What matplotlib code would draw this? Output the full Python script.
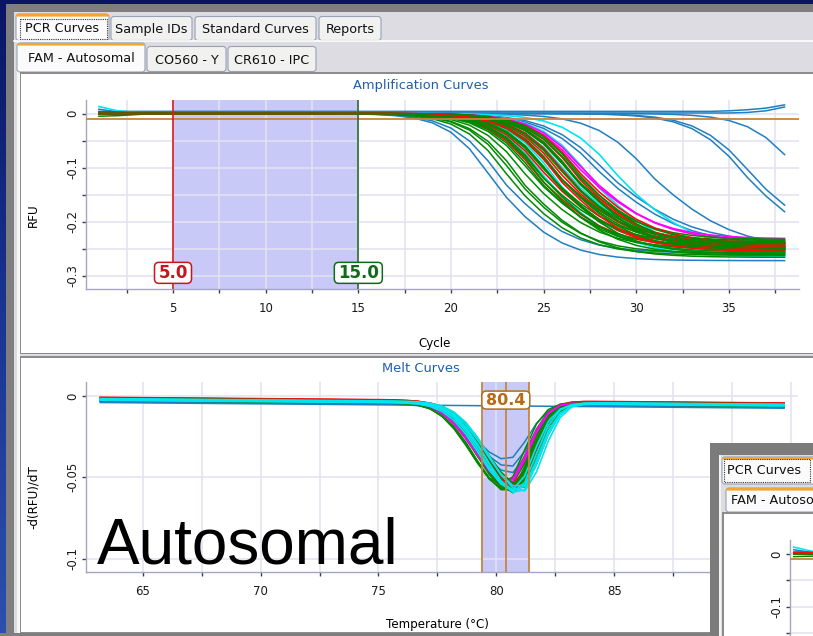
import numpy as np
import matplotlib
matplotlib.use("Agg")
import matplotlib.pyplot as plt
from matplotlib.patches import Rectangle, FancyBboxPatch
from matplotlib.colors import LinearSegmentedColormap
from matplotlib.ticker import MultipleLocator

W, H = 813, 636
plt.rcParams['font.family'] = ['DejaVu Sans']

PALETTE = {'b': '#1f7fc0', 'c': '#00e6f0', 'g': '#008a00', 'r': '#ff0a0a', 'm': '#ff00ff'}
LINE_W = {'b': 1.1, 'r': 1.2, 'c': 1.2, 'm': 1.2, 'g': 1.1}

# ---------------- amplification run (FAM - Autosomal) ----------------
cycles = np.arange(1, 39)
amp_color = (['b'] * 8 + ['c'] * 5 + ['g'] * 22 + ['r'] * 10 + ['m'] * 2)
amp_mid = [22.5, 22.9, 28.4, 28.7, 31.1, 36.3, 36.6, 39.3,
           25.3, 25.9, 26.6, 27.8, 29.3,
           23.4, 23.7, 24.0, 24.3, 24.6, 24.8, 25.0, 25.2, 25.4, 25.5, 25.7,
           25.8, 26.0, 26.1, 26.3, 26.4, 26.6, 26.7, 26.9, 27.0, 27.2, 25.1,
           24.9, 25.3, 25.6, 25.9, 26.2, 26.5, 26.7, 27.0, 27.2, 26.0,
           27.3, 27.5]
amp_width = [1.30, 1.35, 1.65, 1.65, 1.60, 1.55, 1.55, 1.45,
             1.40, 1.40, 1.45, 1.45, 1.50,
             1.35, 1.35, 1.40, 1.40, 1.40, 1.40, 1.40, 1.40, 1.40, 1.40, 1.40,
             1.40, 1.40, 1.40, 1.40, 1.40, 1.40, 1.40, 1.40, 1.40, 1.40, 1.40,
             1.40, 1.40, 1.40, 1.40, 1.40, 1.40, 1.40, 1.40, 1.40, 1.40,
             1.45, 1.45]
amp_plateau = [-0.272, -0.258, -0.244, -0.240, -0.250, -0.262, -0.256, -0.262,
               -0.258, -0.265, -0.250, -0.262, -0.255,
               -0.262, -0.258, -0.266, -0.250, -0.245, -0.252, -0.240, -0.256,
               -0.238, -0.248, -0.260, -0.235, -0.246, -0.253, -0.241, -0.249,
               -0.233, -0.245, -0.255, -0.240, -0.250, -0.262,
               -0.248, -0.243, -0.252, -0.238, -0.246, -0.251, -0.242, -0.247,
               -0.240, -0.255,
               -0.232, -0.236]
amp_tail = 1.35  # slower approach to the plateau than the take-off
# readings of the first three cycles that sit off the baseline
start_rfu = {0: [0.008, 0.003, 0.001], 8: [0.013, 0.005, 0.002],
             13: [-0.005, -0.004, -0.002], 35: [0.003, 0.003, 0.002]}
# no-template controls
ntc_rfu = [[0.004] * 34 + [0.005, 0.007, 0.010, 0.016],
           [0.001] * 35 + [0.002, 0.005, 0.012]]
threshold_rfu = -0.0098
baseline_begin, baseline_end = 5.0, 15.0
amp_xticks = [5, 10, 15, 20, 25, 30, 35]
amp_yticks = [0, -0.1, -0.2, -0.3]
amp_yticklabels = ['0', '-0.1', '-0.2', '-0.3']

# ---------------- melt run ----------------
temps = np.arange(63.2, 92.3, 0.5)
melt_color = (['b'] * 4 + ['g'] * 15 + ['r'] * 7 + ['m'] * 2 + ['c'] * 6)
melt_tm = [80.45, 80.55, 80.6, 80.5,
           80.3, 80.4, 80.45, 80.5, 80.55, 80.6, 80.6, 80.65, 80.7, 80.75,
           80.8, 80.85, 80.9, 80.95, 81.0,
           80.5, 80.6, 80.7, 80.75, 80.85, 80.95, 81.0,
           80.45, 80.5,
           80.7, 80.8, 80.9, 80.95, 81.0, 81.1]
melt_depth = [0.034, 0.038, 0.042, 0.0,
              0.051, 0.053, 0.049, 0.054, 0.050, 0.055, 0.052, 0.053, 0.054,
              0.051, 0.055, 0.052, 0.054, 0.053, 0.051,
              0.052, 0.054, 0.051, 0.055, 0.053, 0.052, 0.054,
              0.049, 0.050,
              0.053, 0.055, 0.054, 0.056, 0.052, 0.055]
melt_offset = [-0.0010, -0.0015, -0.0012, -0.0020,
               0.0002, -0.0004, 0.0006, -0.0008, 0.0000, 0.0004, -0.0006,
               0.0008, -0.0002, 0.0003, -0.0005, 0.0007, -0.0003, 0.0001, 0.0005,
               0.0010, 0.0006, 0.0012, 0.0004, 0.0009, 0.0002, 0.0007,
               0.0000, 0.0003,
               -0.0004, 0.0002, -0.0006, 0.0001, -0.0002, 0.0004]
melt_base_start, melt_base_end = -0.0020, -0.0055
melt_sigma_low, melt_sigma_high = 1.40, 0.85
melt_peak = 80.4
melt_half_window = 1.0
melt_xticks = [65, 70, 75, 80, 85, 90]
melt_yticks = [0, -0.05, -0.1]
melt_yticklabels = ['0', '-0.05', '-0.1']


def amp_trace(i):
    mid, width, plateau = amp_mid[i], amp_width[i], amp_plateau[i]
    s = np.where(cycles < mid, width, width * amp_tail)
    y = plateau / (1.0 + np.exp(-(cycles - mid) / s))
    if i in start_rfu:
        y[:3] = y[:3] + np.array(start_rfu[i])
    return y


def melt_trace(i):
    tm = melt_tm[i]
    sig = np.where(temps < tm, melt_sigma_low, melt_sigma_high)
    base = melt_base_start + (melt_base_end - melt_base_start) * (temps - temps[0]) / (temps[-1] - temps[0])
    return base + melt_offset[i] - melt_depth[i] * np.exp(-0.5 * ((temps - tm) / sig) ** 2)


def draw_order(colors, underneath, mixed, on_top=()):
    """Wells of the 'underneath' dyes first; the 'mixed' dyes are spread
    evenly through one another; 'on_top' dyes are drawn last."""
    order = [i for key in underneath for i, c in enumerate(colors) if c == key]
    keyed = []
    for key in mixed:
        idx = [i for i, c in enumerate(colors) if c == key]
        for k, i in enumerate(idx):
            keyed.append(((k + 0.5) / len(idx), i))
    order += [i for _, i in sorted(keyed)]
    order += [i for key in on_top for i, c in enumerate(colors) if c == key]
    return order


AMP_DRAW = draw_order(amp_color, ['b', 'c', 'm'], ['g', 'r'])
MELT_DRAW = draw_order(melt_color, ['b'], ['g', 'r', 'm'], ['c'])


def style_axes(ax):
    ax.set_facecolor('white')
    for side in ('top', 'right'):
        ax.spines[side].set_visible(False)
    for side in ('left', 'bottom'):
        ax.spines[side].set_color('#a4a4c6')
        ax.spines[side].set_linewidth(1.0)
    ax.tick_params(which='both', direction='out', length=3, width=1,
                   color='#404040', labelsize=8.5, labelcolor='#1a1a1a')
    ax.tick_params(axis='x', pad=6.5)
    ax.tick_params(axis='y', labelrotation=90, pad=2)
    ax.set_axisbelow(True)


def value_tag(ax, x, y, text, color, w_px, h_px, fs):
    x0, x1 = ax.get_xlim()
    y0, y1 = ax.get_ylim()
    ppx = ax.get_position().width * W / (x1 - x0)
    ppy = ax.get_position().height * H / (y1 - y0)
    w, h = w_px / ppx, h_px / ppy
    ax.add_patch(FancyBboxPatch((x - w / 2, y - h / 2), w, h,
                                boxstyle='round,pad=0,rounding_size=%f' % (4.5 / ppx),
                                mutation_aspect=ppx / ppy, fc='white', ec=color,
                                lw=1.1, zorder=6, clip_on=False))
    ax.text(x, y, text, ha='center', va='center', color=color, fontsize=fs,
            fontweight='bold', zorder=7)


def draw_amp(ax):
    for row in ntc_rfu:
        ax.plot(cycles, row, color=PALETTE['b'], lw=1.1, zorder=2)
    for i in AMP_DRAW:
        c = amp_color[i]
        ax.plot(cycles, amp_trace(i), color=PALETTE[c], lw=LINE_W[c], zorder=2)


fig = plt.figure(figsize=(W / 100, H / 100), dpi=100)

# ---------------- window chrome ----------------
bg = fig.add_axes([0, 0, 1, 1], zorder=-10)
grad = np.linspace(0, 1, 256).reshape(-1, 1)
desk = LinearSegmentedColormap.from_list('desk', ['#0a1462', '#1a3592', '#2b50b0'])
bg.imshow(grad, extent=(0, W, H, 0), cmap=desk, aspect='auto')
bg.set_xlim(0, W)
bg.set_ylim(H, 0)
bg.axis('off')


def rect(ax, x0, y0, x1, y1, color, **kw):
    ax.add_patch(Rectangle((x0, y0), x1 - x0, y1 - y0, facecolor=color,
                           edgecolor='none', **kw))


def tab(ax, x0, x1, y0, y1, label, selected, fs=9.2):
    face = '#fbfbfb' if selected else '#f1f1ef'
    ax.add_patch(FancyBboxPatch((x0, y0), x1 - x0, y1 - y0,
                                boxstyle='round,pad=0,rounding_size=3',
                                fc=face, ec='#98a2b4', lw=0.8))
    if selected:
        ax.add_patch(FancyBboxPatch((x0 + 0.5, y0), x1 - x0 - 1, 2.6,
                                    boxstyle='round,pad=0,rounding_size=1.2',
                                    fc='#f3a530', ec='none'))
    ax.text((x0 + x1) / 2, (y0 + y1) / 2 + 1, label, ha='center', va='center',
            fontsize=fs, color='#111111')


rect(bg, 6, 4, W, H, '#7f7f7f')
rect(bg, 14, 12, W, H, '#dcdce2')
rect(bg, 16.5, 40, 19.5, 633, '#f6f6f6')
bg.plot([14, W], [40.5, 40.5], color='white', lw=1.2)

tab(bg, 16, 109, 14, 40.5, 'PCR Curves', True)
bg.add_patch(Rectangle((19.5, 18.5), 87, 20.5, fill=False, ls=(0, (1, 1)),
                       ec='#333333', lw=0.8))
tab(bg, 111, 192, 16.5, 40.5, 'Sample IDs', False)
tab(bg, 195, 316, 16.5, 40.5, 'Standard Curves', False)
tab(bg, 319, 381, 16.5, 40.5, 'Reports', False)

tab(bg, 17, 145, 43, 72, 'FAM - Autosomal', True)
tab(bg, 147, 226, 46.5, 71.5, 'CO560 - Y', False)
tab(bg, 228, 316, 46.5, 71.5, 'CR610 - IPC', False)

rect(bg, 19.5, 71.5, W, 354, '#8c8c8c')
rect(bg, 21, 73.5, W, 352.5, 'white')
rect(bg, 19.5, 356, W, 633, '#8c8c8c')
rect(bg, 21, 358, W, 632, 'white')
rect(bg, 0, 633, W, H, '#7f7f7f')

bg.text(421, 86, 'Amplification Curves', ha='center', va='center',
        fontsize=9.4, color='#1f5fae')
bg.text(421, 368, 'Melt Curves', ha='center', va='center',
        fontsize=9.4, color='#1f5fae')

# ---------------- amplification chart ----------------
ax1 = fig.add_axes([86 / W, (H - 289.3) / H, 713 / W, 189.3 / H])
style_axes(ax1)
ax1.set_xlim(0.305, 38.78)
ax1.set_ylim(-0.325, 0.025)
ax1.set_xticks(amp_xticks)
ax1.xaxis.set_minor_locator(MultipleLocator(2.5))
ax1.set_yticks(amp_yticks, labels=amp_yticklabels)
ax1.yaxis.set_minor_locator(MultipleLocator(0.05))
plt.setp(ax1.get_yticklabels(), va='center')
ax1.grid(which='both', color='#e2e2f3', lw=1.1)
ax1.axvspan(baseline_begin, baseline_end, color='#c9c9f7', lw=0, zorder=0.2)

draw_amp(ax1)

ax1.axhline(threshold_rfu, color='#c8843c', lw=1.3, zorder=3)
ax1.axvline(baseline_begin, color='#d81c1c', lw=1.2, zorder=3)
ax1.axvline(baseline_end, color='#2a6e2a', lw=1.2, zorder=3)
value_tag(ax1, baseline_begin, -0.2946, '%.1f' % baseline_begin, '#c8141e', 37, 21, 12)
value_tag(ax1, baseline_end, -0.2946, '%.1f' % baseline_end, '#0f6a1a', 48, 21, 12)

ax1.set_xlabel('Cycle', fontsize=8.6)
ax1.xaxis.set_label_coords((435 - 86) / 713, (289.3 - 336.7) / 189.3)
ax1.set_ylabel('RFU', fontsize=8.6)
ax1.yaxis.set_label_coords((40 - 86) / 713, (289.3 - 215) / 189.3)

# ---------------- melt chart ----------------
ax2 = fig.add_axes([86.3 / W, (H - 571.7) / H, 711.7 / W, 190 / H])
style_axes(ax2)
ax2.set_xlim(62.61, 92.79)
ax2.set_ylim(-0.108, 0.0088)
ax2.set_xticks(melt_xticks)
ax2.xaxis.set_minor_locator(MultipleLocator(2.5))
ax2.set_yticks(melt_yticks, labels=melt_yticklabels)
plt.setp(ax2.get_yticklabels(), va='center')
ax2.grid(axis='x', which='both', color='#e2e2f3', lw=1.1)
ax2.grid(axis='y', which='major', color='#e2e2f3', lw=1.1)
ax2.axvspan(melt_peak - melt_half_window, melt_peak + melt_half_window,
            color='#c9c9f7', lw=0, zorder=0.2)
for i in MELT_DRAW:
    c = melt_color[i]
    ax2.plot(temps, melt_trace(i), color=PALETTE[c], lw=LINE_W[c], zorder=2)
for t in (melt_peak - melt_half_window, melt_peak, melt_peak + melt_half_window):
    ax2.axvline(t, color='#c8843c', lw=1.3, zorder=3)
value_tag(ax2, melt_peak, -0.0025, '%.1f' % melt_peak, '#b86a14', 48, 18, 11.5)

ax2.set_xlabel('Temperature (°C)', fontsize=8.6)
ax2.xaxis.set_label_coords((437 - 86.3) / 711.7, (571.7 - 618) / 190)
ax2.set_ylabel('-d(RFU)/dT', fontsize=8.6)
ax2.yaxis.set_label_coords((40 - 86.3) / 711.7, (571.7 - 497.5) / 190)

fig.text(97 / W, (H - 563) / H, 'Autosomal', fontsize=46,
         family=['Liberation Sans', 'DejaVu Sans'], ha='left', va='baseline',
         color='black', zorder=20)

# ---------------- second window peeking in ----------------
ib = fig.add_axes([710 / W, 0, (W - 710) / W, (H - 443) / H], zorder=30)
ib.set_xlim(710, W)
ib.set_ylim(H, 443)
ib.axis('off')
rect(ib, 710, 443, W, H, '#7b7b7b')
rect(ib, 719, 455, W, H, '#dcdce2')
rect(ib, 719, 455, 720.5, H, '#f4f4f4')
tab(ib, 722, W + 10, 457, 484, '', True)
ib.text(727, 470, 'PCR Curves', ha='left', va='center', fontsize=9.2, color='#111111')
ib.add_patch(Rectangle((724, 459), 86, 23, fill=False, ls=(0, (1, 1)),
                       ec='#333333', lw=0.8))
tab(ib, 726, W + 10, 488, 512, '', True)
ib.text(731, 500.5, 'FAM - Autosomal', ha='left', va='center', fontsize=9.2,
        color='#111111', clip_on=True)
rect(ib, 722, 512, W, H, '#8c8c8c')
rect(ib, 723.5, 513.5, W, H, 'white')

ax3 = fig.add_axes([790 / W, (H - 900) / H, 710 / W, 360 / H], zorder=31)
style_axes(ax3)
ax3.spines['bottom'].set_visible(False)
ax3.set_xlim(0.8, 39.2)
ax3.set_ylim(-0.653, 0.0264)
ax3.set_xticks([])
ax3.set_yticks([0, -0.1], labels=['0', '-0.1'])
ax3.yaxis.set_minor_locator(MultipleLocator(0.05))
plt.setp(ax3.get_yticklabels(), va='center')
ax3.grid(axis='y', which='both', color='#e2e2f3', lw=1.1)
draw_amp(ax3)
ax3.axhline(threshold_rfu, color='#c8843c', lw=1.3, zorder=3)

fig.savefig('out.png', dpi=100)
